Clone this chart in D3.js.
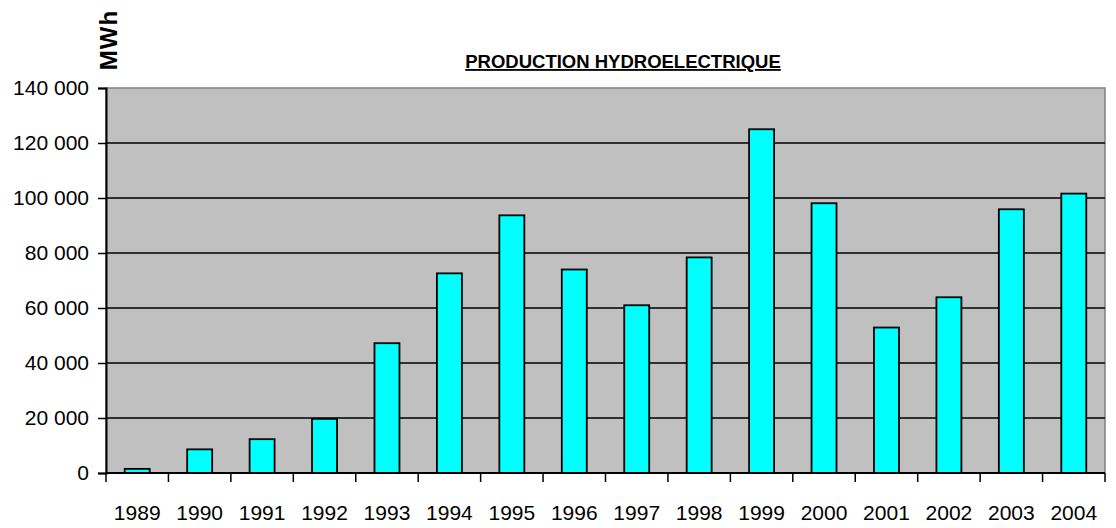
<!DOCTYPE html>
<html lang="fr">
<head>
  <meta charset="UTF-8" />
  <title>Production hydroélectrique</title>
  <style>
    html, body { margin: 0; background: #fff; overflow: hidden; }
    svg { display: block; }
    svg text { font-family: "Liberation Sans", Arial, sans-serif; fill: #000; }
  </style>
</head>
<body>
  <div id="chart"></div>
  <script src="https://d3js.org/d3.v7.min.js"></script>
  <script>
    const width = 1116;
    const height = 528;
    const margin = { top: 88, right: 11, bottom: 55, left: 106 };
    const innerWidth = width - margin.left - margin.right;
    const innerHeight = height - margin.top - margin.bottom;

    // data
    const years = ['1989', '1990', '1991', '1992', '1993', '1994', '1995', '1996',
                   '1997', '1998', '1999', '2000', '2001', '2002', '2003', '2004'];
    const production = [1500, 8600, 12300, 19700, 47200, 72600, 93700, 74000,
                        61000, 78400, 125000, 98100, 52900, 63900, 95900, 101600];
    const yTicks = [0, 20000, 40000, 60000, 80000, 100000, 120000, 140000];

    const svg = d3.select('#chart')
      .append('svg')
      .attr('width', width)
      .attr('height', height);

    const g = svg.append('g')
      .attr('transform', `translate(${margin.left},${margin.top})`);

    const x = d3.scaleBand()
      .domain(years)
      .range([0, innerWidth])
      .paddingInner(0.6)
      .paddingOuter(0.3);

    const y = d3.scaleLinear()
      .domain([0, 140000])
      .range([innerHeight, 0]);

    // plot area
    g.append('rect')
      .attr('width', innerWidth)
      .attr('height', innerHeight)
      .attr('fill', '#c0c0c0')
      .attr('stroke', '#808080')
      .attr('stroke-width', 1.5);

    // gridlines
    g.append('g')
      .selectAll('line')
      .data(yTicks.filter(d => d > 0 && d < 140000))
      .join('line')
      .attr('x1', 0)
      .attr('x2', innerWidth)
      .attr('y1', d => y(d))
      .attr('y2', d => y(d))
      .attr('stroke', '#000')
      .attr('stroke-width', 1.5);

    // bars
    g.append('g')
      .selectAll('rect')
      .data(years)
      .join('rect')
      .attr('x', (d) => x(d))
      .attr('y', (d, i) => y(production[i]))
      .attr('width', x.bandwidth())
      .attr('height', (d, i) => innerHeight - y(production[i]))
      .attr('fill', '#00ffff')
      .attr('stroke', '#000')
      .attr('stroke-width', 1.8);

    // y axis
    const yAxis = g.append('g')
      .call(d3.axisLeft(y)
        .tickValues(yTicks)
        .tickSize(8)
        .tickPadding(9)
        .tickFormat(d => d3.format(',')(d).replace(/,/g, ' ')));
    yAxis.attr('font-family', null).attr('font-size', null);
    yAxis.select('.domain').attr('stroke-width', 2);
    yAxis.selectAll('.tick line').attr('stroke-width', 1.5);
    yAxis.selectAll('text').attr('font-size', 21);

    // x axis: ticks at category boundaries, labels centered
    const boundaries = d3.range(years.length + 1).map(i => i * innerWidth / years.length);
    const xAxis = g.append('g')
      .attr('transform', `translate(0,${innerHeight})`);
    xAxis.append('line')
      .attr('x1', 0).attr('x2', innerWidth)
      .attr('stroke', '#000').attr('stroke-width', 2);
    xAxis.selectAll('line.tick')
      .data(boundaries)
      .join('line')
      .attr('class', 'tick')
      .attr('x1', d => d).attr('x2', d => d)
      .attr('y1', 0).attr('y2', 9)
      .attr('stroke', '#000').attr('stroke-width', 1.5);
    xAxis.selectAll('text')
      .data(years)
      .join('text')
      .attr('x', d => x(d) + x.bandwidth() / 2)
      .attr('y', 47)
      .attr('text-anchor', 'middle')
      .attr('font-size', 21)
      .text(d => d);

    // title
    svg.append('text')
      .attr('x', 623)
      .attr('y', 68)
      .attr('text-anchor', 'middle')
      .attr('font-size', 18.5)
      .attr('font-weight', 'bold')
      .attr('text-decoration', 'underline')
      .text('PRODUCTION HYDROELECTRIQUE');

    // unit label
    svg.append('text')
      .attr('transform', 'translate(117,40) rotate(-90)')
      .attr('text-anchor', 'middle')
      .attr('font-size', 24)
      .attr('font-weight', 'bold')
      .attr('letter-spacing', 1)
      .text('MWh');
  </script>
</body>
</html>
